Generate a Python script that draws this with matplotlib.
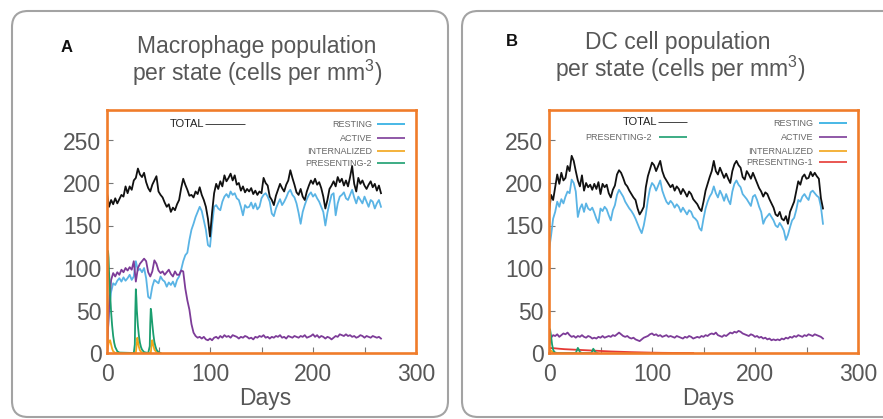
import numpy as np
import matplotlib
matplotlib.use("Agg")
import matplotlib.pyplot as plt
from matplotlib.patches import FancyBboxPatch
from matplotlib.ticker import FixedLocator

plt.rcParams['font.family'] = ['Liberation Sans', 'DejaVu Sans']
plt.rcParams['mathtext.fontset'] = 'custom'
plt.rcParams['mathtext.rm'] = 'Liberation Sans'
plt.rcParams['mathtext.it'] = 'Liberation Sans:italic'
plt.rcParams['mathtext.bf'] = 'Liberation Sans:bold'

# ---------------- data (cells per mm^3, sampled every 2 days) ----------------
days = np.arange(0, 268, 2)

mac_total = [188, 172, 180, 175, 182, 176, 181, 186, 184, 196,
             188, 196, 192, 203, 206, 217, 210, 207, 212, 201,
             194, 190, 198, 203, 208, 190, 186, 183, 177, 172,
             175, 166, 171, 168, 175, 180, 194, 205, 198, 192,
             185, 186, 183, 190, 187, 195, 186, 180, 172, 158,
             137, 165, 188, 199, 193, 202, 196, 209, 202, 206,
             211, 203, 209, 198, 200, 191, 196, 189, 193, 190,
             194, 187, 191, 186, 190, 188, 206, 200, 197, 184,
             180, 174, 185, 192, 199, 194, 190, 198, 203, 215,
             206, 198, 189, 186, 193, 184, 180, 190, 197, 203,
             199, 205, 198, 201, 194, 184, 170, 180, 193, 197,
             202, 196, 207, 201, 205, 197, 203, 196, 207, 220,
             199, 190, 206, 199, 203, 197, 193, 198, 202, 195,
             199, 191, 197, 188]

mac_resting = [8, 51, 72, 82, 80, 85, 88, 84, 89, 85,
               88, 92, 86, 90, 108, 97, 99, 95, 100, 88,
               66, 64, 78, 86, 84, 82, 90, 86, 84, 78,
               83, 80, 84, 78, 86, 90, 98, 108, 115, 118,
               133, 145, 152, 160, 166, 172, 167, 156, 145, 127,
               125, 150, 172, 174, 170, 168, 178, 184, 187, 183,
               190, 186, 188, 182, 180, 172, 162, 174, 171, 172,
               177, 170, 176, 169, 172, 182, 186, 188, 184, 178,
               164, 161, 170, 176, 181, 174, 178, 183, 189, 192,
               186, 183, 176, 165, 152, 166, 174, 181, 186, 189,
               184, 187, 182, 178, 172, 166, 150, 165, 176, 186,
               188, 162, 176, 184, 186, 189, 182, 180, 186, 192,
               183, 176, 184, 180, 176, 184, 178, 172, 180, 178,
               170, 176, 180, 172]

mac_active = [0, 55, 86, 94, 90, 95, 92, 98, 95, 100,
              97, 101, 98, 108, 84, 100, 105, 108, 111, 108,
              95, 90, 96, 109, 105, 97, 94, 96, 92, 95,
              98, 93, 90, 96, 92, 92, 97, 96, 76, 62,
              51, 34, 24, 20, 18, 19, 17, 19, 16, 15,
              17, 15, 18, 19, 17, 20, 18, 21, 19, 20,
              18, 21, 20, 19, 17, 19, 18, 20, 19, 17,
              18, 16, 19, 18, 20, 19, 21, 18, 19, 17,
              19, 18, 20, 19, 21, 18, 19, 17, 20, 19,
              18, 20, 19, 18, 20, 19, 21, 18, 19, 20,
              22, 19, 21, 18, 20, 19, 17, 19, 18, 16,
              18, 20, 19, 22, 21, 20, 22, 20, 21, 19,
              20, 18, 19, 21, 20, 18, 20, 19, 18, 20,
              19, 18, 19, 17]

mac_pres2_days = [0, 0.5, 1, 1.5, 2, 3, 4, 5, 6, 7, 8, 10, 12,
                  26, 27, 27.5, 28, 28.5, 29, 30, 31, 32, 33, 34, 36, 40,
                  41.5, 42, 42.5, 43, 44, 45, 46, 47, 48, 50, 52]
mac_pres2 = [40, 110, 120, 112, 95, 70, 48, 32, 20, 12, 7, 2, 0.5,
             0, 10, 50, 75, 65, 50, 32, 20, 12, 7, 4, 1, 0,
             8, 35, 52, 48, 34, 22, 13, 8, 4, 1, 0]

mac_intern_days = [0, 1, 2, 3, 4, 5, 6, 8,
                   28, 29, 29.5, 30, 31, 32, 34,
                   42.5, 43.5, 44, 45, 46, 48, 50]
mac_intern = [0, 8, 14, 15, 10, 5, 2, 0,
              0, 12, 18, 14, 7, 3, 0,
              0, 12, 15, 9, 4, 1, 0]

dc_total = [165, 186, 180, 195, 210, 199, 212, 203, 206, 220,
            214, 232, 226, 214, 203, 196, 209, 191, 200, 195,
            198, 192, 199, 193, 201, 187, 199, 195, 198, 188,
            183, 192, 197, 210, 215, 212, 206, 199, 196, 191,
            187, 183, 180, 170, 163, 167, 172, 195, 208, 216,
            224, 221, 214, 220, 226, 214, 207, 203, 199, 195,
            198, 191, 196, 193, 187, 193, 189, 184, 190, 187,
            181, 178, 175, 170, 167, 178, 191, 199, 207, 214,
            226, 214, 210, 218, 212, 206, 211, 205, 200, 214,
            222, 226, 221, 218, 207, 204, 214, 210, 205, 212,
            206, 200, 194, 190, 184, 189, 187, 181, 176, 171,
            163, 161, 166, 158, 156, 161, 152, 166, 172, 178,
            190, 202, 198, 207, 210, 205, 206, 213, 208, 212,
            208, 205, 182, 170]

dc_resting = [121, 138, 158, 166, 178, 172, 181, 176, 184, 190,
              188, 204, 200, 190, 160, 170, 175, 166, 176, 170,
              168, 171, 165, 158, 153, 170, 167, 172, 169, 162,
              156, 168, 174, 186, 192, 188, 184, 178, 174, 170,
              167, 163, 158, 152, 146, 141, 150, 163, 180, 193,
              200, 197, 191, 197, 203, 191, 184, 178, 175, 179,
              176, 171, 175, 172, 166, 171, 167, 163, 168, 166,
              160, 158, 155, 147, 144, 158, 170, 178, 184, 188,
              196, 188, 183, 191, 186, 179, 187, 180, 175, 190,
              199, 203, 198, 195, 187, 184, 181, 177, 173, 184,
              186, 180, 172, 166, 152, 158, 161, 164, 160, 156,
              150, 148, 153, 149, 144, 133, 139, 148, 156, 159,
              168, 180, 178, 184, 187, 183, 180, 189, 191, 188,
              185, 183, 172, 152]

dc_active = [8, 18, 21, 20, 22, 19, 21, 23, 22, 24,
             21, 19, 20, 18, 20, 19, 21, 19, 18, 20,
             19, 17, 18, 17, 19, 18, 20, 18, 19, 20,
             19, 21, 20, 22, 24, 22, 20, 19, 20, 18,
             17, 18, 16, 15, 14, 16, 18, 19, 20, 22,
             23, 21, 22, 20, 21, 19, 20, 21, 19, 20,
             19, 18, 20, 19, 18, 17, 19, 18, 20, 19,
             17, 18, 19, 18, 20, 19, 21, 20, 22, 23,
             22, 24, 21, 20, 19, 21, 20, 22, 24, 23,
             25, 24, 26, 25, 23, 22, 21, 20, 22, 21,
             19, 20, 18, 19, 17, 18, 16, 17, 15, 16,
             15, 16, 15, 17, 16, 18, 17, 19, 18, 20,
             19, 21, 20, 19, 21, 20, 22, 21, 20, 22,
             21, 20, 19, 17]

dc_pres2_days = [0, 1, 2, 3, 4, 5, 6, 8, 26, 27, 28, 29, 30, 32, 41, 42, 43, 44, 45, 47]
dc_pres2 = [25, 28, 20, 10, 4, 1.5, 0.5, 0, 0, 3, 6, 4, 1, 0, 0, 2, 5, 3, 1, 0]

dc_pres1_days = [0, 0.5, 2, 6, 10, 15, 20, 30, 40, 50, 60, 70, 80, 90, 100, 110, 120, 140]
dc_pres1 = [0, 6, 5.8, 5.5, 5, 4.5, 4.2, 3.6, 3, 2.4, 1.8, 1.4, 1, 0.7, 0.4, 0.2, 0.1, 0]

dc_intern_days = [0, 1, 2, 3, 5, 7]
dc_intern = [0, 2, 3, 1.5, 0.5, 0]

x_ticks = [0, 100, 200, 300]
y_ticks = [0, 50, 100, 150, 200, 250]

# ---------------- styling ----------------
C_TOTAL = '#111111'
C_REST = '#5AB4E5'
C_ACT = '#7D3C98'
C_INT = '#F2A51A'
C_P2 = '#1B9E6F'
C_P1 = '#E53935'
C_FRAME = '#F07C2A'
C_TXT = '#575757'

W, H = 883, 419
fig = plt.figure(figsize=(W / 100, H / 100), dpi=100)

# pixel-space overlay for panel boxes, titles and legends
bg = fig.add_axes([0, 0, 1, 1], zorder=0)
bg.set_xlim(0, W)
bg.set_ylim(H, 0)
bg.axis('off')

for (bx, bw) in [(12, 436), (462, 440)]:
    bg.add_patch(FancyBboxPatch((bx, 11), bw, 406,
                                boxstyle="round,pad=0,rounding_size=16",
                                ec='#a3a3a3', fc='none', lw=1.5))


def panel(left, right, top=110, bottom=353):
    ax = fig.add_axes([left / W, 1 - bottom / H, (right - left) / W, (bottom - top) / H],
                      zorder=2)
    ax.set_xlim(0, 300)
    ax.set_ylim(0, (bottom - top) / 0.85)
    ax.patch.set_alpha(0)
    for s in ax.spines.values():
        s.set_color(C_FRAME)
        s.set_linewidth(1.9)
    ax.xaxis.set_major_locator(FixedLocator(x_ticks))
    ax.xaxis.set_minor_locator(FixedLocator([50, 150, 250]))
    ax.yaxis.set_major_locator(FixedLocator(y_ticks))
    ax.set_xticklabels([str(v) for v in x_ticks])
    ax.set_yticklabels([str(v) for v in y_ticks])
    ax.tick_params(which='both', direction='in', color='#777777', width=0.8,
                   labelsize=16.5, labelcolor=C_TXT)
    ax.tick_params(which='major', length=4)
    ax.tick_params(which='minor', length=4)
    ax.tick_params(axis='x', pad=7)
    ax.tick_params(axis='y', pad=4)
    return ax


lw = 1.3
axA = panel(107, 416)
axA.plot(days, mac_resting, color=C_REST, lw=lw)
axA.plot(days, mac_active, color=C_ACT, lw=lw)
axA.plot(days, mac_total, color=C_TOTAL, lw=lw)
axA.plot(mac_intern_days, mac_intern, color=C_INT, lw=lw)
axA.plot(mac_pres2_days, mac_pres2, color=C_P2, lw=lw)

axB = panel(549, 858)
axB.plot(days, dc_resting, color=C_REST, lw=lw)
axB.plot(days, dc_active, color=C_ACT, lw=lw)
axB.plot(days, dc_total, color=C_TOTAL, lw=lw)
axB.plot(dc_intern_days, dc_intern, color=C_INT, lw=lw)
axB.plot(dc_pres1_days, dc_pres1, color=C_P1, lw=lw)
axB.plot(dc_pres2_days, dc_pres2, color=C_P2, lw=lw)

# titles and panel letters
bg.text(67, 48, 'A', fontsize=12, fontweight='bold', color='#111111', ha='center', va='center')
bg.text(257, 47, 'Macrophage population', fontsize=16.5, color=C_TXT, ha='center', va='center')
bg.text(257, 73, r'per state (cells per mm$^\mathrm{3}$)', fontsize=16.5, color=C_TXT,
        ha='center', va='center')
bg.text(512, 42, 'B', fontsize=12, fontweight='bold', color='#111111', ha='center', va='center')
bg.text(678, 43, 'DC cell population', fontsize=16.5, color=C_TXT, ha='center', va='center')
bg.text(680, 69, r'per state (cells per mm$^\mathrm{3}$)', fontsize=16.5, color=C_TXT,
        ha='center', va='center')

bg.text(265, 398, 'Days', fontsize=16.5, color=C_TXT, ha='center', va='center')
bg.text(708, 398, 'Days', fontsize=16.5, color=C_TXT, ha='center', va='center')


# in-frame legends
def leg(x_text, x0, x1, y, label, color, size=6.5, tcolor='#666666', llw=1.2):
    bg.text(x_text, y, label, fontsize=size, color=tcolor, ha='right', va='center', zorder=5)
    bg.plot([x0, x1], [y, y], color=color, lw=llw, solid_capstyle='butt', zorder=5)


leg(204, 205, 245, 124, 'TOTAL', '#444444', size=8, tcolor='#222222', llw=0.7)
leg(372, 377, 405, 124, 'RESTING', '#29ABE2')
leg(372, 377, 405, 138, 'ACTIVE', C_ACT)
leg(372, 377, 405, 151, 'INTERNALIZED', C_INT)
leg(372, 377, 405, 163, 'PRESENTING-2', C_P2)

leg(657, 658, 687, 122, 'TOTAL', '#444444', size=8, tcolor='#222222', llw=0.7)
leg(652, 659, 687, 137, 'PRESENTING-2', C_P2)
leg(813, 819, 847, 123, 'RESTING', '#29ABE2')
leg(813, 819, 847, 137, 'ACTIVE', C_ACT)
leg(813, 819, 847, 151, 'INTERNALIZED', C_INT)
leg(813, 819, 847, 162, 'PRESENTING-1', C_P1)

fig.savefig('out.png', dpi=100)
